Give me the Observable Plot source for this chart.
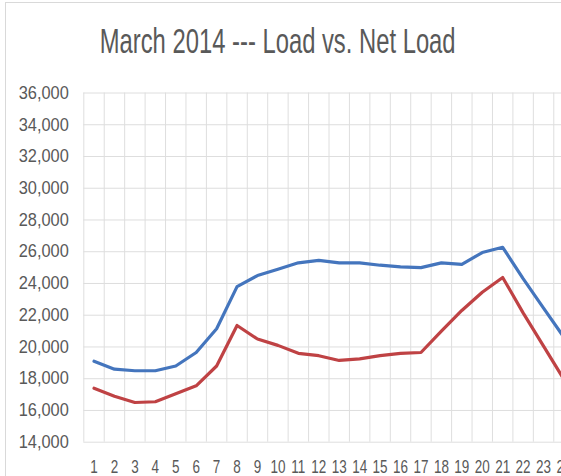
<!DOCTYPE html>
<html><head><meta charset="utf-8">
<script src="https://cdn.jsdelivr.net/npm/d3@7"></script>
<script src="https://cdn.jsdelivr.net/npm/@observablehq/plot@0.6"></script>
<style>
html,body{margin:0;padding:0;background:#fff;overflow:hidden;}
#wrap{position:relative;width:561px;height:476px;overflow:hidden;font-family:"Liberation Sans",Arial,sans-serif;}
#frame{position:absolute;left:5px;top:2px;width:700px;height:700px;border:1px solid #d9d9d9;box-sizing:border-box;pointer-events:none;}
#title{height:70px;box-sizing:border-box;padding-top:23px;text-align:center;font-size:35px;line-height:35px;color:#595959;width:556px;white-space:nowrap;}
#title span{display:inline-block;transform:scaleX(0.68);transform-origin:50% 50%;}
</style></head>
<body>
<div id="wrap">
  <div id="frame"></div>
  <div id="title"><span>March 2014 --- Load vs. Net Load</span></div>
  <div id="chart"></div>
</div>
<script>
const hours = [1,2,3,4,5,6,7,8,9,10,11,12,13,14,15,16,17,18,19,20,21,22,23,24];
const load = [19100,18600,18500,18500,18800,19650,21150,23800,24500,24900,25300,25450,25300,25300,25150,25050,25000,25300,25200,25950,26280,24300,22450,20600];
const netLoad = [17400,16900,16500,16550,17050,17550,18800,21350,20500,20100,19600,19450,19150,19250,19450,19600,19650,21000,22300,23450,24380,22150,20050,17950];
const yTicks = [14000,16000,18000,20000,22000,24000,26000,28000,30000,32000,34000,36000];
const seriesNames = ["Load","Net Load"];
const seriesColors = ["#4475bd","#bf4244"];

const rows = hours.flatMap((h,i)=>[
  {hour:h, value:load[i], series:seriesNames[0]},
  {hour:h, value:netLoad[i], series:seriesNames[1]}
]);
const bounds = hours.map(h=>h-0.5).concat([hours[hours.length-1]+0.5]);

const chart = Plot.plot({
  width: 561, height: 406,
  marginLeft: 83.3, marginRight: -12.7, marginTop: 22.5, marginBottom: 34.3,
  x: {domain:[0.5,24.5]},
  y: {domain:[14000,36000]},
  color: {domain: seriesNames, range: seriesColors},
  style: {fontFamily:"'Liberation Sans', Arial, sans-serif", fontSize:"18px", color:"#595959", background:"transparent"},
  marks: [
    Plot.ruleX(bounds, {stroke:"#dedede", strokeWidth:1}),
    Plot.ruleY(yTicks, {stroke:"#dedede", strokeWidth:1}),
    Plot.axisY(yTicks, {tickSize:0, tickPadding:15, tickFormat:d3.format(","), label:null}),
    Plot.axisX(hours, {tickSize:0, tickPadding:17.8, tickFormat:d=>String(d), label:null}),
    Plot.line(rows, {x:"hour", y:"value", z:"series", stroke:"series", strokeWidth:3.2, strokeLinejoin:"round"})
  ]
});
document.getElementById("chart").appendChild(chart);

function squeeze(sel, s){
  chart.querySelectorAll(sel).forEach(t=>{
    const tr = t.getAttribute("transform") || "";
    const x = parseFloat(t.getAttribute("x") || "0");
    t.setAttribute("transform", `${tr} translate(${x},0) scale(${s},1) translate(${-x},0)`);
  });
}
squeeze('g[aria-label="y-axis tick label"] text', 0.91);
squeeze('g[aria-label="x-axis tick label"] text', 0.75);
</script>
</body></html>
